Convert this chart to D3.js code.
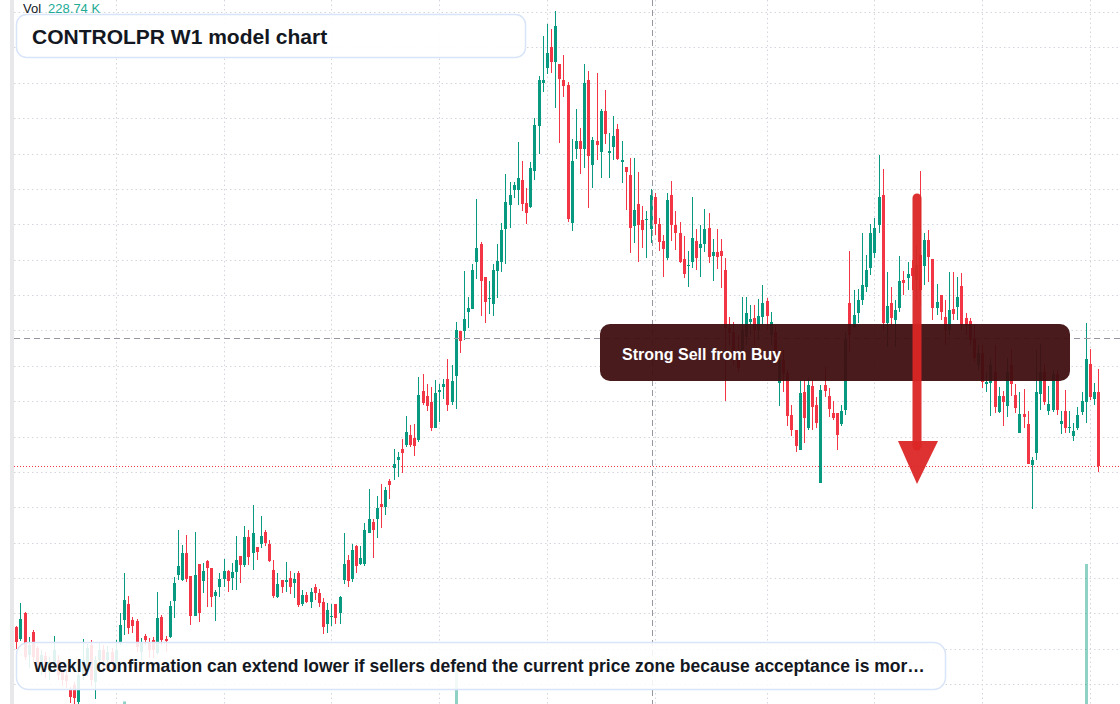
<!DOCTYPE html>
<html>
<head>
<meta charset="utf-8">
<script src="https://cdn.jsdelivr.net/npm/d3@7"></script>
<style>
  html, body { margin: 0; padding: 0; background: #fff; }
  svg { display: block; font-family: "Liberation Sans", Arial, sans-serif; }
</style>
</head>
<body>
<svg width="1120" height="704"></svg>
<script>
// weekly OHLC, oldest first
const opens = [173,161,187,145,168,152,132,144,128,132,140,128,125,110,115,98,124,132,155,118,
  140,150,140,148,136,158,180,196,180,179,148,164,158,160,147,183,161,163,199,225,
  220,247,224,184,236,219,239,232,204,213,221,229,222,228,244,235,263,247,253,256,
  268,256,230,203,220,218,222,217,227,196,205,198,213,207,198,176,183,196,187,220,
  240,221,254,236,236,267,278,281,296,293,319,332,340,351,355,365,362,360,409,404,
  398,372,408,413,421,398,424,469,469,488,491,538,556,523,501,496,529,538,571,595,
  610,610,620,597,593,629,674,717,732,753,738,736,720,715,577,651,659,651,720,635,
  659,648,689,647,653,671,638,633,625,574,596,580,580,571,603,576,559,542,605,575,
  567,541,534,538,559,552,556,572,544,548,549,530,472,468,443,445,463,478,482,470,
  483,499,465,468,417,440,427,385,370,350,408,372,414,395,317,415,404,387,387,376,
  390,497,473,487,500,513,532,547,575,605,477,497,480,492,520,522,532,520,545,534,
  560,541,492,505,483,470,491,493,514,482,479,462,435,447,416,417,428,388,404,394,
  435,405,367,386,376,335,347,406,428,389,390,426,376,389,372,364,372,388,398,436,
  401,408];
const highs = [174,197,188,163,170,154,150,148,143,164,145,132,130,113,118,132,161,156,160,144,
  158,155,154,152,160,187,227,204,183,181,162,166,162,163,208,185,164,199,223,270,
  255,265,224,268,236,237,240,232,210,227,241,230,237,264,244,274,270,295,253,284,
  270,260,240,227,220,238,229,227,229,210,208,212,216,211,202,197,196,196,204,267,
  245,256,255,254,277,311,281,304,316,313,321,351,348,361,384,375,376,423,426,416,
  413,420,416,421,441,435,478,469,529,503,536,601,558,523,519,536,556,577,626,618,
  618,658,639,612,638,682,724,764,776,771,789,736,745,718,661,691,672,736,729,663,
  727,691,710,667,684,676,659,633,642,642,628,594,589,611,607,582,565,607,619,589,
  578,564,549,603,571,575,591,587,561,571,561,542,483,478,465,503,503,495,495,501,
  515,502,488,475,443,450,430,395,370,420,420,422,420,403,415,433,412,399,387,395,
  468,549,510,511,567,545,576,582,645,631,528,513,500,544,529,538,540,555,629,567,
  570,541,516,505,500,528,528,523,527,487,482,476,455,455,428,442,455,413,409,442,
  451,416,408,411,389,343,450,456,436,414,430,430,389,410,389,377,393,408,477,451,
  417,431];
const lows = [151,159,140,132,138,130,125,122,120,128,120,114,112,97,96,96,120,124,114,101,
  128,132,132,130,128,155,165,166,167,148,140,155,142,142,145,155,148,162,182,220,
  219,218,175,184,178,207,193,193,179,203,213,208,210,210,217,233,235,230,240,252,
  254,238,202,202,207,208,206,202,193,194,197,192,200,193,166,167,174,176,176,216,
  213,218,227,235,234,267,242,262,272,285,301,320,323,327,353,353,344,358,395,389,
  369,372,378,401,389,395,391,447,460,472,491,521,484,477,486,484,502,528,536,572,
  602,595,589,576,592,620,646,708,726,727,692,657,703,578,569,641,626,632,592,612,
  640,622,656,622,640,640,617,590,547,557,538,552,542,557,565,549,523,540,559,550,
  537,522,513,532,530,523,548,537,519,531,512,399,455,435,428,440,455,465,455,460,
  475,470,455,435,394,408,374,364,348,350,357,370,370,372,317,403,383,380,350,374,
  385,448,472,477,495,508,525,542,567,470,453,475,453,488,505,510,510,500,495,515,
  518,480,485,480,455,465,480,480,470,465,455,438,430,412,408,384,387,387,374,383,
  404,387,367,372,336,291,340,390,395,385,388,385,366,367,367,359,370,385,377,400,
  395,328];
const closes = [158,181,143,155,143,136,145,130,138,150,125,120,119,103,102,125,140,152,120,140,
  150,140,148,138,150,175,200,172,174,153,158,160,150,150,182,160,159,194,217,234,
  247,221,184,225,187,229,232,203,208,221,229,219,228,240,235,263,243,267,248,264,
  257,239,204,216,213,220,213,221,195,205,198,208,207,197,173,190,184,182,203,236,
  219,250,234,242,270,281,270,292,293,310,315,336,343,347,368,355,354,405,397,394,
  372,407,410,416,395,419,470,459,481,492,530,552,519,498,502,530,539,570,598,605,
  615,622,596,587,632,675,720,720,747,738,774,721,714,581,639,659,651,717,644,660,
  655,689,666,649,664,641,640,628,572,590,575,570,581,605,576,558,551,600,575,567,
  538,526,535,562,542,556,571,543,548,543,544,472,467,443,432,470,487,481,470,484,
  497,484,478,440,440,426,384,370,354,407,382,415,393,377,410,409,391,382,365,389,
  462,465,485,500,515,530,567,572,603,477,494,482,490,519,517,526,524,535,510,560,
  543,492,498,488,470,490,486,503,475,475,460,442,447,418,418,435,393,404,398,428,
  416,392,386,383,336,340,408,428,398,396,426,390,379,372,373,369,385,399,441,403,
  408,334];
// volume in thousands
const volumes = [95,140,120,88,76,64,58,71,52,90,66,48,55,83,97,120,135,78,62,104,
  70,58,66,49,85,180,380,160,95,110,72,60,54,81,190,120,75,150,170,230,
  165,140,150,210,175,98,105,120,84,77,92,68,73,140,90,160,118,205,88,110,
  96,104,150,87,64,58,61,55,120,70,62,74,58,66,140,98,52,71,88,230,
  160,175,120,90,210,245,130,150,170,140,115,160,120,135,180,125,118,290,170,140,
  165,185,110,95,170,150,1130,210,260,150,240,300,260,180,130,210,170,240,310,160,
  140,220,175,130,190,260,300,190,230,200,310,240,150,290,270,150,140,250,280,170,
  190,200,160,120,130,150,110,125,240,180,200,130,115,228.74,150,120,110,200,170,105,
  140,150,90,160,120,105,130,140,95,100,110,270,150,160,140,170,150,95,100,110,
  130,105,120,140,130,110,170,150,140,190,160,150,120,110,240,130,105,90,150,110,
  260,290,140,130,170,150,200,180,260,300,160,120,130,170,100,95,110,140,230,150,
  130,190,100,110,140,150,120,110,180,100,120,150,90,140,85,130,170,110,100,150,
  120,110,140,95,230,260,220,160,130,100,150,140,90,120,80,75,110,130,3200,250,
  120,270];

const gridBars = [24, 50, 76, 102, 128, 154, 181, 207, 233, 259];
const crossBar = 153;
const crossPrice = 462;
const titleText = "CONTROLPR W1 model chart";
const noteText = "weekly confirmation can extend lower if sellers defend the current price zone because acceptance is mor\u2026";
const signalText = "Strong Sell from Buy";

const svg = d3.select("svg");
const width = +svg.attr("width");
const height = +svg.attr("height");

const up = "#089981", down = "#f23645";

const bars = opens.map((o, i) => ({
  i, o, h: highs[i], l: lows[i], c: closes[i], v: volumes[i]
}));

const x = d3.scaleLinear().domain([0, bars.length - 1]).range([16.3, 1098.2]);
const y = d3.scaleLinear().domain([96, 800]).range([height, 0]);
const vy = d3.scaleLinear().domain([0, 3200]).range([720, 564]);

svg.append("rect").attr("width", width).attr("height", height).attr("fill", "#fff");
svg.append("rect").attr("x", 10).attr("width", 4).attr("height", height).attr("fill", "#e8e8ea");

// grid
const grid = svg.append("g").attr("stroke", "#d3d6dc").attr("stroke-dasharray", "1.5,3");
grid.selectAll(".gh")
  .data(d3.range(0, 20).map(k => 12 + 35.38 * k))
  .join("line")
  .attr("x1", 14).attr("x2", width)
  .attr("y1", d => Math.round(d) + 0.5).attr("y2", d => Math.round(d) + 0.5);
grid.selectAll(".gv")
  .data(gridBars)
  .join("line")
  .attr("x1", d => Math.round(x(d)) + 0.5).attr("x2", d => Math.round(x(d)) + 0.5)
  .attr("y1", 0).attr("y2", height);

// volume
svg.append("g").selectAll("rect")
  .data(bars)
  .join("rect")
  .attr("x", d => Math.round(x(d.i)) - 1)
  .attr("width", 3)
  .attr("y", d => vy(d.v))
  .attr("height", d => vy(0) - vy(d.v))
  .attr("fill", d => d.c >= d.o ? up : down)
  .attr("fill-opacity", 0.45);

// last price line
const last = bars[bars.length - 1];
svg.append("line")
  .attr("x1", 14).attr("x2", width)
  .attr("y1", Math.round(y(last.c)) + 0.5).attr("y2", Math.round(y(last.c)) + 0.5)
  .attr("stroke", down).attr("stroke-dasharray", "1,2");

// candles
const candles = svg.append("g").selectAll("g")
  .data(bars)
  .join("g")
  .attr("fill", d => d.c >= d.o ? up : down);
candles.append("rect")
  .attr("x", d => Math.round(x(d.i)))
  .attr("width", 1)
  .attr("y", d => y(d.h))
  .attr("height", d => Math.max(1, y(d.l) - y(d.h)));
candles.append("rect")
  .attr("x", d => Math.round(x(d.i)) - 1)
  .attr("width", 3)
  .attr("y", d => y(Math.max(d.o, d.c)))
  .attr("height", d => Math.max(1, Math.abs(y(d.o) - y(d.c))));

// crosshair
const cross = svg.append("g").attr("stroke", "#9598a1").attr("stroke-dasharray", "6,4");
cross.append("line")
  .attr("x1", Math.round(x(crossBar)) + 1.5).attr("x2", Math.round(x(crossBar)) + 1.5)
  .attr("y1", 0).attr("y2", height);
cross.append("line")
  .attr("x1", 14).attr("x2", width)
  .attr("y1", Math.round(y(crossPrice)) + 0.5).attr("y2", Math.round(y(crossPrice)) + 0.5);

// volume legend
const legend = svg.append("text").attr("x", 23).attr("y", 13).attr("font-size", 13);
legend.append("tspan").attr("fill", "#131722").text("Vol");
legend.append("tspan").attr("dx", 7).attr("fill", "#22ab94").text(d3.format(".2f")(volumes[crossBar]) + " K");

// title
svg.append("rect")
  .attr("x", 16.5).attr("y", 14.5).attr("width", 509).attr("height", 43).attr("rx", 10)
  .attr("fill", "#fff").attr("fill-opacity", 0.92)
  .attr("stroke", "#d8e4f8").attr("stroke-width", 1.5);
svg.append("text")
  .attr("x", 32).attr("y", 43.5)
  .attr("font-size", 21).attr("font-weight", "bold").attr("fill", "#131722")
  .text(titleText);

// signal box
svg.append("rect")
  .attr("x", 600).attr("y", 324).attr("width", 470).attr("height", 57).attr("rx", 10)
  .attr("fill", "#3f0f11").attr("fill-opacity", 0.95);
svg.append("text")
  .attr("x", 622).attr("y", 359.5)
  .attr("font-size", 16).attr("font-weight", "bold").attr("fill", "#fff")
  .text(signalText);

// arrow
svg.append("line")
  .attr("x1", 917).attr("x2", 917).attr("y1", 198).attr("y2", 446)
  .attr("stroke", "#dc2626").attr("stroke-width", 9).attr("stroke-linecap", "round")
  .attr("opacity", 0.95);
svg.append("path")
  .attr("d", "M898,441 L938,441 L917,484 Z")
  .attr("fill", "#dc2626").attr("opacity", 0.95);

// note box
svg.append("rect")
  .attr("x", 16.5).attr("y", 642.5).attr("width", 929).attr("height", 47).attr("rx", 12)
  .attr("fill", "#fff").attr("fill-opacity", 0.88)
  .attr("stroke", "#d8e4f8").attr("stroke-width", 1.5);
svg.append("text")
  .attr("x", 34).attr("y", 672)
  .attr("font-size", 17.5).attr("font-weight", "bold").attr("fill", "#131722")
  .text(noteText);
</script>
</body>
</html>
